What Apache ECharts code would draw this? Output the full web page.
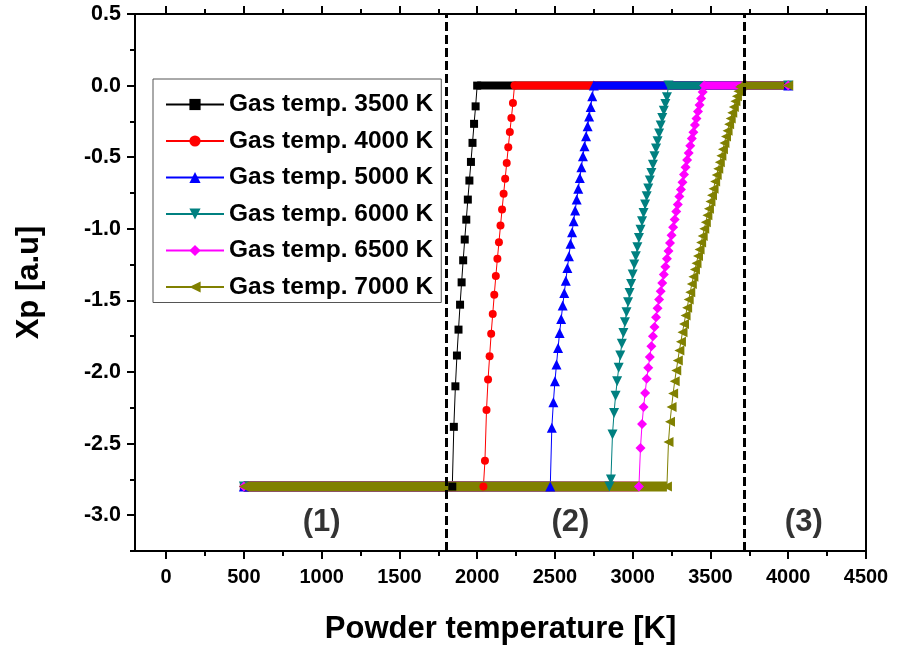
<!DOCTYPE html>
<html>
<head>
<meta charset="utf-8">
<title>Xp vs powder temperature</title>
<script src="https://cdn.jsdelivr.net/npm/echarts@6/dist/echarts.min.js"></script>
<style>
  html, body { margin: 0; padding: 0; background: #fff; }
  #chart { width: 898px; height: 652px; }
</style>
</head>
<body>
<div id="chart"></div>
<script>
// series names and look
var gasTemps = ['Gas temp. 3500 K', 'Gas temp. 4000 K', 'Gas temp. 5000 K',
                'Gas temp. 6000 K', 'Gas temp. 6500 K', 'Gas temp. 7000 K'];
var colors = ['#000000', '#ff0000', '#0000ff', '#008080', '#ff00ff', '#808000'];
var symbols = ['rect', 'circle', 'triangle', 'triangle', 'diamond', 'triangle'];
var symbolRotates = [0, 0, 0, 180, 0, 90];
var symbolSizes = [8, 8, 10, 10, 10, 10];

// flat parts: Xp = -2.8 from 500 K, Xp = 0 up to 4000 K
var lowStart = 500;
var highEnd = 4000;
var xpLow = -2.8;
var xpHigh = 0;

// powder temperature [K] / Xp along each transition
var t3500 = [1840, 1850, 1860, 1870, 1880, 1890, 1900, 1910, 1920, 1930, 1940, 1950, 1960, 1970, 1980, 1990, 2000];
var x3500 = [-2.8, -2.383, -2.1, -1.885, -1.704, -1.53, -1.374, -1.22, -1.075, -0.936, -0.796, -0.663, -0.533, -0.4, -0.267, -0.145, 0];

var t4000 = [2040, 2050, 2060, 2070, 2080, 2090, 2100, 2110, 2120, 2130, 2140, 2150, 2160, 2170, 2180, 2190, 2200, 2210, 2220, 2230, 2240];
var x4000 = [-2.8, -2.62, -2.266, -2.053, -1.89, -1.733, -1.595, -1.46, -1.33, -1.21, -1.094, -0.977, -0.866, -0.756, -0.65, -0.54, -0.43, -0.324, -0.226, -0.121, 0];

var t5000 = [2470, 2480, 2490, 2500, 2510, 2520, 2530, 2540, 2550, 2560, 2570, 2580, 2590, 2600, 2610, 2620, 2630, 2640, 2650, 2660, 2670, 2680, 2690, 2700, 2710, 2720, 2730, 2740, 2750];
var x5000 = [-2.8, -2.39, -2.211, -2.065, -1.948, -1.832, -1.727, -1.63, -1.536, -1.448, -1.362, -1.273, -1.192, -1.105, -1.024, -0.948, -0.873, -0.796, -0.721, -0.645, -0.57, -0.494, -0.424, -0.354, -0.284, -0.216, -0.149, -0.075, 0];

var t6000 = [2850, 2860, 2870, 2880, 2890, 2900, 2910, 2920, 2930, 2940, 2950, 2960, 2970, 2980, 2990, 3000, 3010, 3020, 3030, 3040,
             3050, 3060, 3070, 3080, 3090, 3100, 3110, 3120, 3130, 3140, 3150, 3160, 3170, 3180, 3190, 3200, 3210, 3220, 3230];
var x6000 = [-2.8, -2.75, -2.437, -2.286, -2.165, -2.065, -1.971, -1.885, -1.802, -1.727, -1.653, -1.583, -1.513, -1.448, -1.385, -1.32, -1.25, -1.192, -1.129, -1.064,
             -1.006, -0.948, -0.889, -0.831, -0.773, -0.719, -0.663, -0.61, -0.552, -0.494, -0.44, -0.389, -0.335, -0.279, -0.226, -0.175, -0.128, -0.082, 0];

var t6500 = [3040, 3050, 3060, 3070, 3080, 3090, 3100, 3110, 3120, 3130, 3140, 3150, 3160, 3170, 3180, 3190, 3200, 3210, 3220, 3230, 3240, 3250,
             3260, 3270, 3280, 3290, 3300, 3310, 3320, 3330, 3340, 3350, 3360, 3370, 3380, 3390, 3400, 3410, 3420, 3430, 3440, 3450, 3460];
var x6500 = [-2.8, -2.53, -2.363, -2.244, -2.146, -2.048, -1.971, -1.895, -1.82, -1.75, -1.685, -1.618, -1.555, -1.494, -1.436, -1.378, -1.32, -1.265, -1.21, -1.155, -1.1, -1.045,
             -0.99, -0.935, -0.88, -0.83, -0.775, -0.725, -0.675, -0.62, -0.57, -0.52, -0.47, -0.42, -0.37, -0.325, -0.275, -0.23, -0.18, -0.135, -0.09, -0.045, 0];

var t7000 = [3220, 3230, 3240, 3250, 3260, 3270, 3280, 3290, 3300, 3310, 3320, 3330, 3340, 3350, 3360, 3370, 3380, 3390, 3400, 3410, 3420, 3430, 3440, 3450, 3460,
             3470, 3480, 3490, 3500, 3510, 3520, 3530, 3540, 3550, 3560, 3570, 3580, 3590, 3600, 3610, 3620, 3630, 3640, 3650, 3660, 3670, 3680, 3690, 3700];
var x7000 = [-2.8, -2.488, -2.348, -2.244, -2.151, -2.065, -1.99, -1.92, -1.85, -1.788, -1.723, -1.664, -1.606, -1.552, -1.494, -1.443, -1.385, -1.335, -1.285, -1.24, -1.19, -1.145, -1.095, -1.05, -1.0,
             -0.955, -0.905, -0.86, -0.81, -0.765, -0.72, -0.67, -0.625, -0.58, -0.535, -0.49, -0.445, -0.4, -0.355, -0.315, -0.27, -0.23, -0.19, -0.15, -0.11, -0.075, -0.04, -0.01, 0];

var allT = [t3500, t4000, t5000, t6000, t6500, t7000];
var allX = [x3500, x4000, x5000, x6000, x6500, x7000];

// axes ticks
var xMajorTicks = [0, 500, 1000, 1500, 2000, 2500, 3000, 3500, 4000, 4500];
var xMinorTicks = [250, 750, 1250, 1750, 2250, 2750, 3250, 3750, 4250];
var yMajorTicks = [-3.0, -2.5, -2.0, -1.5, -1.0, -0.5, 0.0, 0.5];
var yMinorTicks = [-3.25, -2.75, -2.25, -1.75, -1.25, -0.75, -0.25, 0.25];

// regime borders (dashed) and region labels
var regimeBorders = [1800, 3715];
var regionLabels = ['(1)', '(2)', '(3)'];
var regionLabelX = [1000, 2600, 4100];
var regionLabelY = -3.05;

var chart = echarts.init(document.getElementById('chart'));

var FONT = 'Liberation Sans';
var axisLineStyle = { color: '#000', width: 2 };

function xAxisDef(pos, ticks, len, withLine, withLabel) {
  var ax = {
    type: 'value', position: pos, min: -200, max: 4500,
    axisLine: { show: withLine, onZero: false, lineStyle: axisLineStyle },
    axisTick: { show: true, inside: false, length: len, customValues: ticks, lineStyle: { color: '#000', width: 2 } },
    axisLabel: { show: false },
    splitLine: { show: false }
  };
  if (withLabel) {
    ax.axisLabel = {
      show: true, customValues: ticks, margin: 16,
      formatter: function (v) { return String(v); },
      color: '#000', fontWeight: 'bold', fontSize: 20, fontFamily: FONT
    };
    ax.name = 'Powder temperature [K]';
    ax.nameLocation = 'middle';
    ax.nameGap = 63;
    ax.nameTextStyle = { color: '#000', fontWeight: 'bold', fontSize: 31, fontFamily: FONT };
  }
  return ax;
}

function yAxisDef(pos, ticks, len, withLine, withLabel) {
  var ax = {
    type: 'value', position: pos, min: -3.25, max: 0.5,
    axisLine: { show: withLine, onZero: false, lineStyle: axisLineStyle },
    axisTick: { show: ticks !== null, inside: false, length: len, customValues: ticks || [], lineStyle: { color: '#000', width: 2 } },
    axisLabel: { show: false },
    splitLine: { show: false }
  };
  if (withLabel) {
    ax.axisLabel = {
      show: true, customValues: ticks, margin: 14,
      formatter: function (v) { return v.toFixed(1); },
      color: '#000', fontWeight: 'bold', fontSize: 21.5, fontFamily: FONT
    };
    ax.name = 'Xp [a.u]';
    ax.nameLocation = 'middle';
    ax.nameGap = 90;
    ax.nameTextStyle = { color: '#000', fontWeight: 'bold', fontSize: 31, fontFamily: FONT };
  }
  return ax;
}

var series = [];
for (var i = 0; i < gasTemps.length; i++) {
  var T = allT[i], X = allX[i];
  var pts = [[lowStart, xpLow]];
  for (var k = 0; k < T.length; k++) pts.push([T[k], X[k]]);
  pts.push([highEnd, xpHigh]);

  // the dense markers on the flat parts look like a thick band
  series.push({
    name: 'low-' + i, type: 'line', silent: true, symbol: 'none',
    data: [[lowStart, xpLow], [T[0], xpLow]],
    lineStyle: { color: colors[i], width: 10 }
  });
  series.push({
    name: 'high-' + i, type: 'line', silent: true, symbol: 'none',
    data: [[T[T.length - 1], xpHigh], [highEnd, xpHigh]],
    lineStyle: { color: colors[i], width: 8 }
  });
  series.push({
    name: gasTemps[i], type: 'line', data: pts,
    symbol: symbols[i], symbolSize: symbolSizes[i], symbolRotate: symbolRotates[i],
    showAllSymbol: true,
    itemStyle: { color: colors[i] },
    lineStyle: { color: colors[i], width: 1 }
  });
}

series.push({
  name: 'regions', type: 'scatter', silent: true, z: 5,
  symbol: 'circle', symbolSize: 1,
  itemStyle: { color: 'rgba(0,0,0,0)' },
  data: regionLabels.map(function (s, j) { return [regionLabelX[j], regionLabelY, s]; }),
  label: {
    show: true, position: 'inside',
    formatter: function (p) { return p.data[2]; },
    color: '#000', fontWeight: 'bold', fontSize: 31, fontFamily: FONT
  },
  markLine: {
    silent: true, symbol: ['none', 'none'], animation: false,
    label: { show: false },
    lineStyle: { color: '#000', width: 3, type: [9, 4] },
    data: regimeBorders.map(function (b) { return { xAxis: b }; })
  }
});

var option = {
  animation: false,
  backgroundColor: '#fff',
  grid: { left: 135, right: 32, top: 14, bottom: 101 },
  legend: {
    data: gasTemps,
    orient: 'vertical', left: 153, top: 79,
    padding: [13, 8, 3, 12],
    itemWidth: 58, itemHeight: 14, itemGap: 11.5,
    backgroundColor: '#fff', borderColor: '#555', borderWidth: 1,
    selectedMode: false,
    textStyle: { color: '#000', fontWeight: 'bold', fontSize: 24.5, fontFamily: FONT, lineHeight: 22 }
  },
  xAxis: [
    xAxisDef('bottom', xMajorTicks, 8, true, true),
    xAxisDef('bottom', xMinorTicks, 5, false, false),
    xAxisDef('top', xMajorTicks, 8, true, false),
    xAxisDef('top', xMinorTicks, 5, false, false)
  ],
  yAxis: [
    yAxisDef('left', yMajorTicks, 8, true, true),
    yAxisDef('left', yMinorTicks, 5, false, false),
    yAxisDef('right', null, 0, true, false)
  ],
  series: series
};

chart.setOption(option);
</script>
</body>
</html>
